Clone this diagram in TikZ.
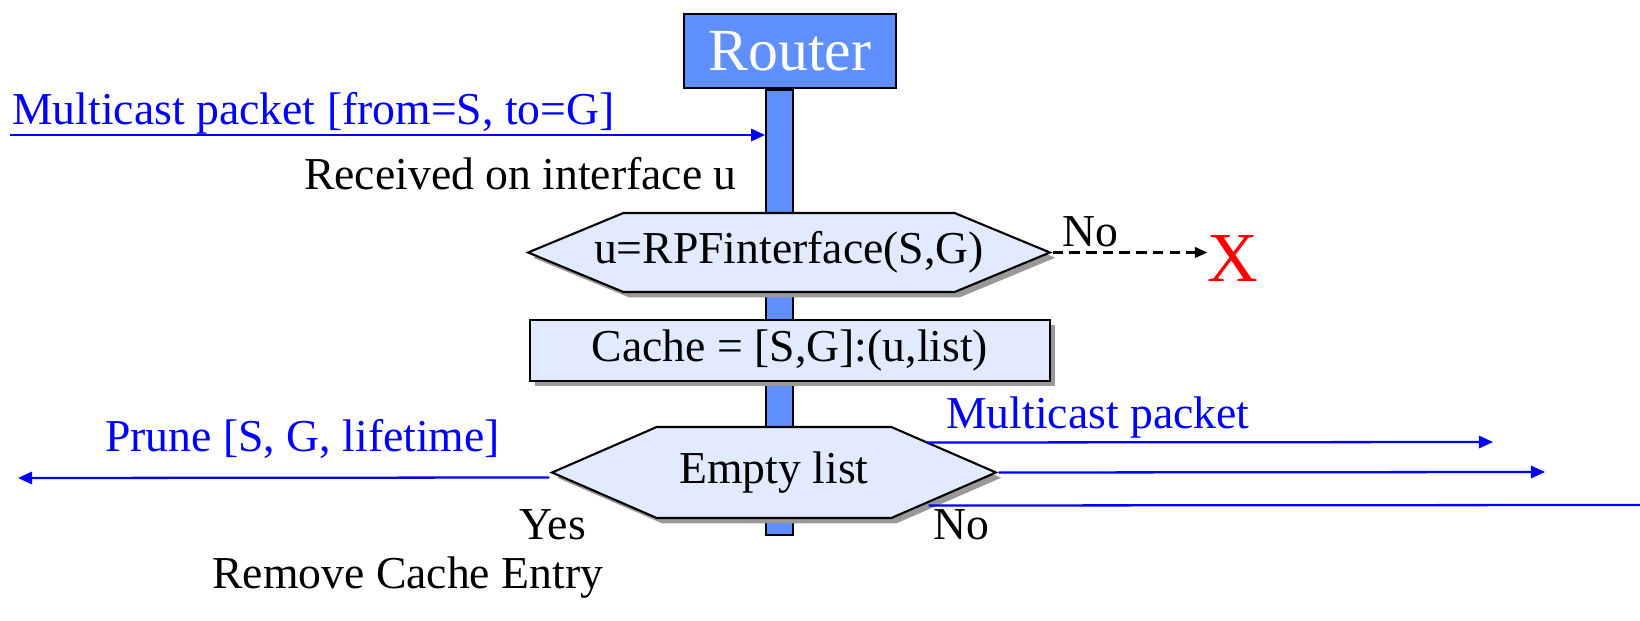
\documentclass[tikz,border=0pt]{standalone}
\usepackage{fontspec}
\setmainfont{Liberation Serif}
\usetikzlibrary{shapes.symbols,shadows,arrows.meta,calc}
\definecolor{routerblue}{RGB}{96,144,255}
\definecolor{boxfill}{RGB}{226,234,255}
\begin{document}
\begin{tikzpicture}[x=0.02cm,y=-0.02cm,
        every node/.style={font=\fontsize{26}{30}\selectfont},
        boxshadow/.style={drop shadow={fill=black!40,opacity=1,shadow xshift=3pt,shadow yshift=-3pt}},
        decision/.style={signal,signal to=west and east,draw,line width=1.2pt,fill=boxfill,boxshadow,inner sep=0pt},
        cachebox/.style={rectangle,draw,line width=1.2pt,fill=boxfill,boxshadow,minimum width=10.4cm,minimum height=1.22cm},
        flow/.style={blue,line width=1.3pt},
        tip/.style={-{Triangle[length=8pt,width=7pt]}},
        label/.style={anchor=base west,inner sep=0pt}]
    \useasboundingbox (0,0) rectangle (1640,621);
    %% router and its backbone
    \node[draw,line width=1pt,fill=routerblue,minimum width=0.54cm,minimum height=8.9cm,inner sep=0pt] (bar) at (779.5,312.5) {};
    \node[draw,line width=1.2pt,fill=routerblue,text=white,minimum width=4.24cm,minimum height=1.48cm,font=\fontsize{34}{40}\selectfont] (router) at (790,51) {Router};
    %% checks on the way down
    \node[decision,signal pointer angle=45,minimum width=10.44cm,minimum height=1.58cm] (rpf) at (789,252.5) {\makebox[0pt]{u=RPFinterface(S,G)}};
    \node[cachebox] (cache) at (790,350.5) {Cache = [S,G]:(u,list)};
    \node[decision,signal pointer angle=47,minimum width=8.88cm,minimum height=1.82cm] (empty) at (774,472.5) {\makebox[0pt]{Empty list}};
    %% incoming packet
    \node[label,blue] (mcin) at (12,125) {Multicast packet [from=S, to=G]};
    \coordinate (src) at (10,135);
    \draw[flow,tip] (src) -- (src -| bar.west);
    \node[anchor=base east,inner sep=0pt] (recv) at (737,190) {Received on interface u};
    %% wrong interface: drop
    \node[label] (no1) at (1062,247) {No};
    \node[red,inner sep=0pt,font=\fontsize{40}{44}\selectfont] (drop) at (1233,258) {X};
    \draw[dash pattern=on 6pt off 3.5pt,line width=1.2pt,-{Triangle[length=7pt,width=6pt]}] (rpf.east) -- (rpf.east -| drop.west);
    %% empty list: prune upstream
    \node[label,blue] (prune) at (105,452) {Prune [S, G, lifetime]};
    \coordinate (upstream) at (18,478);
    \draw[flow,tip] ($(empty.west)+(0,5)$) -- (upstream);
    \node[label] (yes) at (519,540) {Yes};
    \node[label] (remove) at (212,588) {Remove Cache Entry};
    %% otherwise forward on the list
    \node[label,blue] (mcout) at (946,429) {Multicast packet};
    \coordinate (down1) at (1493,442);
    \coordinate (down2) at (1545,472);
    \coordinate (down3) at (1640,505);
    \draw[flow,tip] ($(empty.east)+(-72,-30)$) -- (down1);
    \draw[flow,tip] (empty.east) -- (down2);
    \draw[flow] ($(empty.east)+(-70,33)$) -- (down3);
    \node[label] (no2) at (933,540) {No};
\end{tikzpicture}
\end{document}
